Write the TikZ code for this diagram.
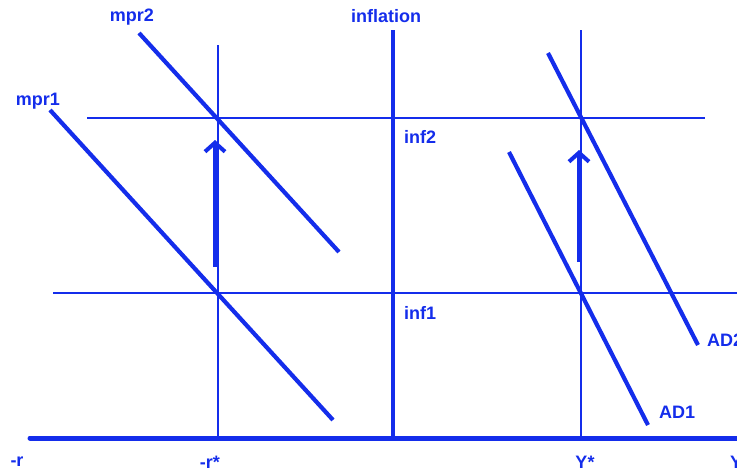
\documentclass[tikz,border=0pt]{standalone}
\usepackage{fontspec}
\setmainfont{Liberation Sans}
\usetikzlibrary{arrows.meta}
\definecolor{chartblue}{RGB}{20,45,235}

\begin{document}
\begin{tikzpicture}[x=1pt, y=-1pt,
    gridline/.style={chartblue, line width=1.6pt},
    curve/.style={chartblue, line width=4.2pt},
    axis/.style={chartblue, line width=5pt},
    lbl/.style={text=chartblue, font=\bfseries\fontsize{18}{18}\selectfont, inner sep=0pt},
    arr/.style={-{Straight Barb[length=9pt, width=20pt]}, chartblue, line width=4pt}
]
\useasboundingbox (0,0) rectangle (737,472);
\clip (0,0) rectangle (737,472);
% reference points
\coordinate (ax0) at (30,438);
\coordinate (ax1) at (740,438);
\coordinate (inftop) at (393,30);
\coordinate (infbot) at (393,438);
\coordinate (rstop) at (218,45);
\coordinate (rsbot) at (218,438);
\coordinate (ystop) at (581,30);
\coordinate (ysbot) at (581,438);
\coordinate (hi0) at (87,118);
\coordinate (hi1) at (705,118);
\coordinate (lo0) at (53,293);
\coordinate (lo1) at (740,293);
\coordinate (m1a) at (50,110);
\coordinate (m1b) at (333,420);
\coordinate (m2a) at (139,33);
\coordinate (m2b) at (339,252);
\coordinate (d1a) at (509,152);
\coordinate (d1b) at (648,425);
\coordinate (d2a) at (548,53);
\coordinate (d2b) at (698,345);
\coordinate (la0) at (215,267);
\coordinate (la1) at (215,140);
\coordinate (ra0) at (579,262);
\coordinate (ra1) at (579,150);
% axes and guide lines
\draw[gridline] (hi0) -- (hi1);
\draw[gridline] (lo0) -- (lo1);
\draw[gridline] (rstop) -- (rsbot);
\draw[gridline] (ystop) -- (ysbot);
\draw[chartblue, line width=4pt] (inftop) -- (infbot);
\draw[axis, line cap=round] (ax0) -- (ax1);
% curves
\draw[curve] (m1a) -- (m1b);
\draw[curve] (m2a) -- (m2b);
\draw[curve] (d1a) -- (d1b);
\draw[curve] (d2a) -- (d2b);
\draw[arr] (la0) -- (la1);
\draw[arr] (ra0) -- (ra1);
% labels
\node[lbl] (mpr1) at (38,101) {mpr1};
\node[lbl] (mpr2) at (132,17) {mpr2};
\node[lbl] (infl) at (386,16) {inflation};
\node[lbl, anchor=west] (inf2) at (404,137) {inf2};
\node[lbl, anchor=west] (inf1) at (404,313) {inf1};
\node[lbl, anchor=west] (ad1) at (659,412) {AD1};
\node[lbl, anchor=west] (ad2) at (707,340) {AD2};
\node[lbl] (rneg) at (17,462) {-r};
\node[lbl] (rstar) at (210,462) {-r*};
\node[lbl] (ystar) at (585,462) {Y*};
\node[lbl, anchor=west] (yout) at (730,462) {Y};
\end{tikzpicture}
\end{document}
